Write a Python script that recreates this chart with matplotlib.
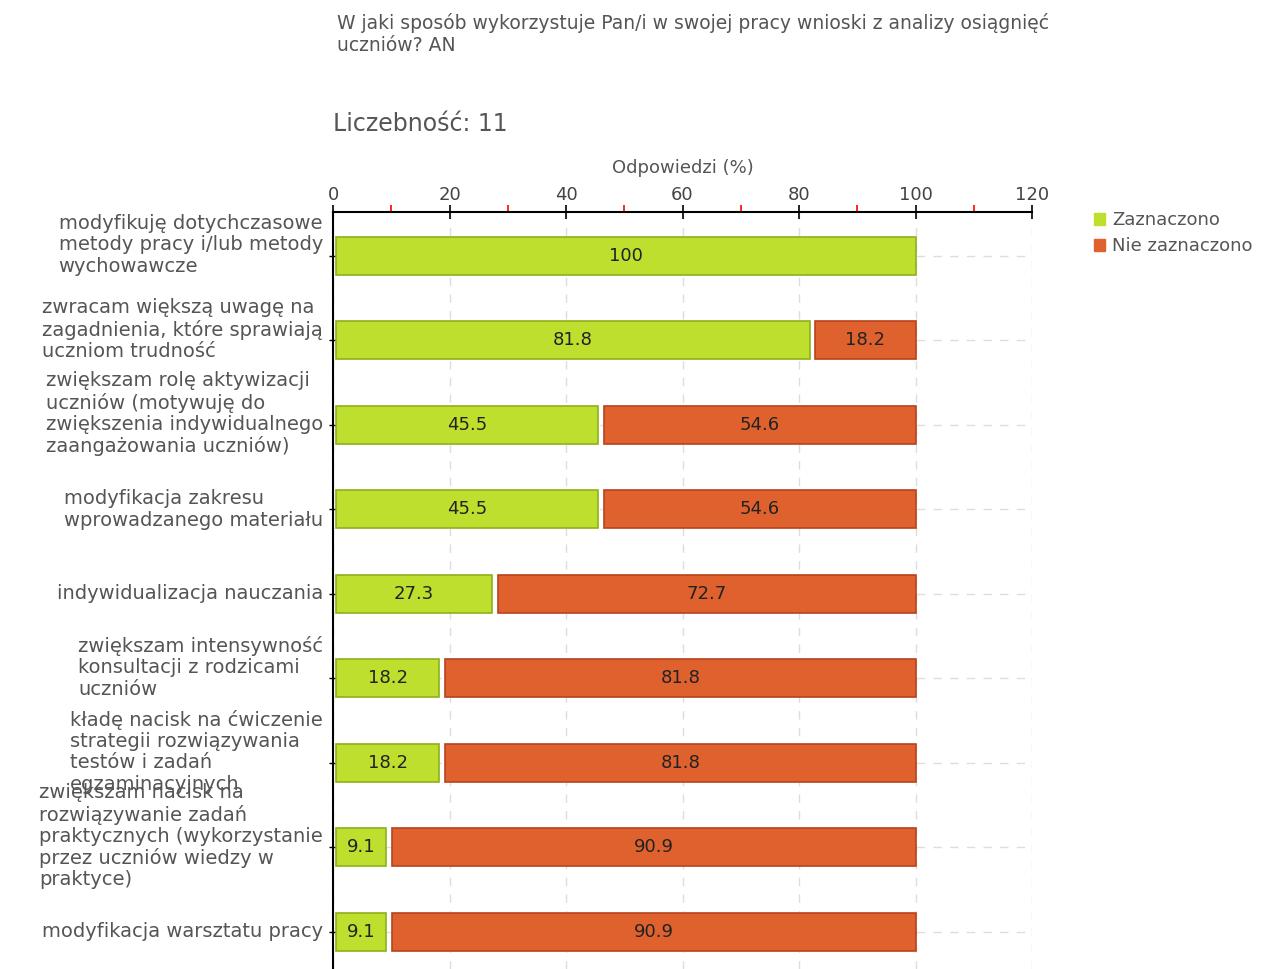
import numpy as np
import matplotlib.pyplot as plt
import matplotlib.transforms as mtransforms
from matplotlib.patches import Patch

plt.rcParams['font.family'] = ['DejaVu Sans']

categories = [
    "modyfikuję dotychczasowe\nmetody pracy i/lub metody\nwychowawcze",
    "zwracam większą uwagę na\nzagadnienia, które sprawiają\nuczniom trudność",
    "zwiększam rolę aktywizacji\nuczniów (motywuję do\nzwiększenia indywidualnego\nzaangażowania uczniów)",
    "modyfikacja zakresu\nwprowadzanego materiału",
    "indywidualizacja nauczania",
    "zwiększam intensywność\nkonsultacji z rodzicami\nuczniów",
    "kładę nacisk na ćwiczenie\nstrategii rozwiązywania\ntestów i zadań\negzaminacyjnych",
    "zwiększam nacisk na\nrozwiązywanie zadań\npraktycznych (wykorzystanie\nprzez uczniów wiedzy w\npraktyce)",
    "modyfikacja warsztatu pracy",
]
zaznaczono = [100, 81.8, 45.5, 45.5, 27.3, 18.2, 18.2, 9.1, 9.1]
nie_zaznaczono = [0, 18.2, 54.6, 54.6, 72.7, 81.8, 81.8, 90.9, 90.9]
series_names = ["Zaznaczono", "Nie zaznaczono"]
title = "W jaki sposób wykorzystuje Pan/i w swojej pracy wnioski z analizy osiągnięć\nuczniów? AN"
count_text = "Liczebność: 11"
x_label = "Odpowiedzi (%)"

green, green_edge = "#bedf2e", "#8fb01a"
orange, orange_edge = "#df622e", "#b8421c"
text_col = "#555555"

fig = plt.figure(figsize=(12.77, 9.69), dpi=100)
ax = fig.add_axes([0.2608, 0.0, 0.5474, 0.7812])

y = np.arange(len(categories))
z = np.array(zaznaczono)
n = np.array(nie_zaznaczono)
pad = 0.5  # small inset between segments, like the original renderer

ax.barh(y, z - pad, left=pad, height=0.45, color=green, edgecolor=green_edge, linewidth=1.2, zorder=3)
mask = n > 0
ax.barh(y[mask], n[mask] - 2 * pad, left=z[mask] + 2 * pad, height=0.45,
        color=orange, edgecolor=orange_edge, linewidth=1.2, zorder=3)

for yi, zv, nv in zip(y, z, n):
    ax.text((zv + pad) / 2, yi, "{:g}".format(zv), ha="center", va="center", fontsize=13, color="#222222", zorder=4)
    if nv > 0:
        ax.text(zv + 2 * pad + (nv - 2 * pad) / 2, yi, "{:g}".format(nv), ha="center", va="center",
                fontsize=13, color="#222222", zorder=4)

ax.set_xlim(0, 120)
ax.set_ylim(8.44, -0.52)
ax.xaxis.tick_top()
ax.xaxis.set_label_position("top")
ax.set_xticks(np.arange(0, 121, 20))
ax.set_xticks(np.arange(10, 120, 20), minor=True)
ax.tick_params(axis="x", which="major", direction="inout", length=10, width=1.2, colors="black",
               labelcolor="#444444", labelsize=13, pad=1)
ax.tick_params(axis="x", which="minor", direction="out", length=5, width=1.2, colors="red")
ax.set_xlabel(x_label, fontsize=13, color=text_col, labelpad=9)

# category labels drawn by hand: the original lifts the taller ones by half a line
ax.set_yticks(y)
ax.set_yticklabels([])
ax.tick_params(axis="y", direction="inout", length=6, width=1, colors="black")
for yi, cat in zip(y, categories):
    dy = 0.11 if cat.count("\n") >= 2 else 0.0
    off = mtransforms.ScaledTranslation(-0.10, dy, fig.dpi_scale_trans)
    ax.text(0, yi, cat, transform=ax.get_yaxis_transform() + off, ha="right", va="center",
            multialignment="left", fontsize=14, color=text_col, linespacing=1.15)

for s in ["right", "bottom"]:
    ax.spines[s].set_visible(False)
ax.spines["top"].set_linewidth(1.5)
ax.spines["left"].set_linewidth(1.5)

ax.grid(True, which="major", axis="both", color="#dddddd", linestyle=(0, (6, 6)), linewidth=1, zorder=0)
ax.set_axisbelow(True)

fig.text(337 / 1277, 1 - 13 / 969, title, fontsize=13.5, color=text_col, ha="left", va="top", linespacing=1.18)
fig.text(333 / 1277, 1 - 124 / 969, count_text, fontsize=17, color=text_col, ha="left", va="center")

handles = [Patch(facecolor=green, edgecolor=green), Patch(facecolor=orange, edgecolor=orange)]
leg = fig.legend(handles, series_names, loc="upper left", bbox_to_anchor=(1087 / 1277, 1 - 204 / 969),
                 frameon=False, fontsize=13, handlelength=0.6, handleheight=0.6, handletextpad=0.4,
                 labelspacing=0.45, borderaxespad=0)
for t in leg.get_texts():
    t.set_color(text_col)

fig.savefig("out.png", dpi=100)
